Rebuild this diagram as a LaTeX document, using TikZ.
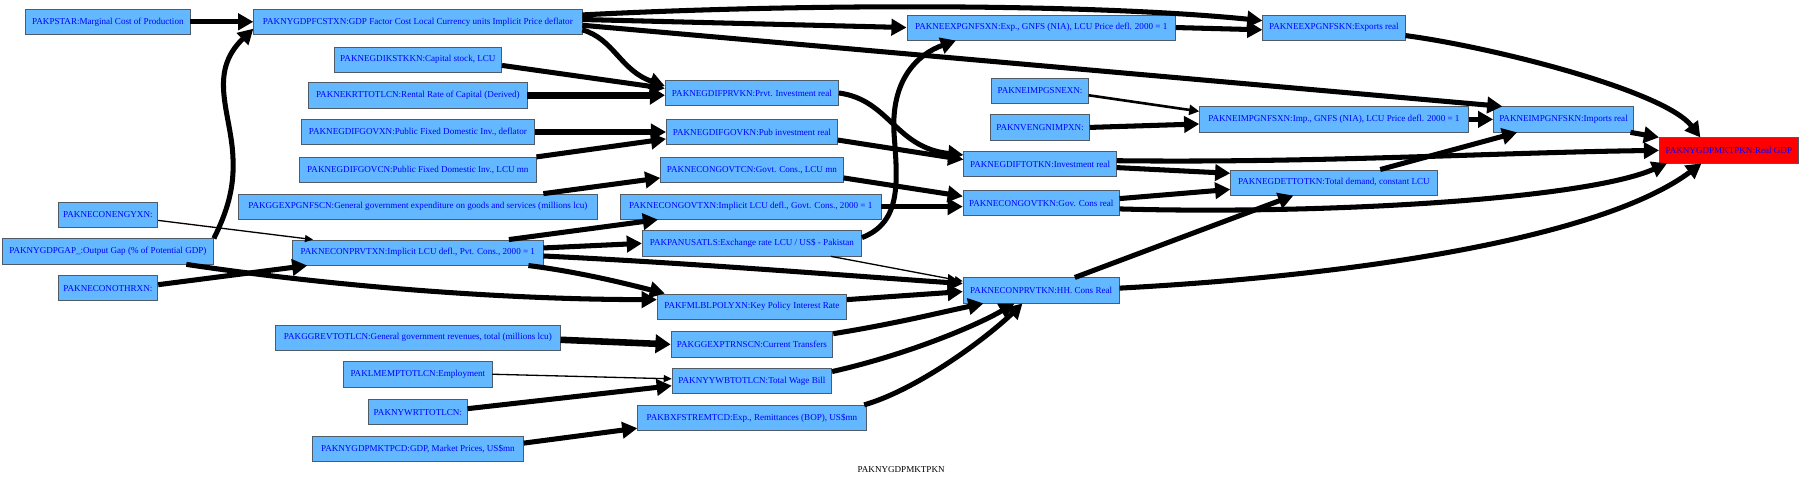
\documentclass[tikz,border=0pt]{standalone}
\usepackage{fontspec}
\setmainfont{Liberation Serif}
\usepackage{tikz}
\usetikzlibrary{arrows.meta, calc}
\definecolor{varfill}{HTML}{63B8FF}
\definecolor{varline}{HTML}{4F5B66}
\definecolor{gdpfill}{HTML}{FF0000}
\tikzset{
  var/.style={draw=varline, line width=0.7pt, fill=varfill, text=blue,
    font=\fontsize{9}{10}\selectfont, minimum height=0.88cm,
    inner xsep=0.5pt, inner ysep=0pt},
  flow/.style={line width=5pt, -{Triangle[length=15pt,width=16pt]}},
  heavyflow/.style={line width=6.5pt, -{Triangle[length=15pt,width=18pt]}},
  midflow/.style={line width=2.6pt, -{Triangle[length=10pt,width=10pt]}},
  thinflow/.style={line width=1.3pt, -{Triangle[length=8pt,width=7pt]}},
}
\begin{document}
\begin{tikzpicture}[x=0.04cm, y=0.04cm]
\useasboundingbox (0,0) rectangle (1568,419);
% Variable boxes: name/x/y/width/label
\foreach \nm/\x/\y/\w/\lbl in {
    pstar/94/400/143/{PAKPSTAR:Marginal Cost of Production},
    fcstxn/364/400/286/{PAKNYGDPFCSTXN:GDP Factor Cost Local Currency units Implicit Price deflator},
    expxn/907/395/234/{PAKNEEXPGNFSXN:Exp., GNFS (NIA), LCU Price defl. 2000 = 1},
    expkn/1162/395/124/{PAKNEEXPGNFSKN:Exports real},
    kstkkn/364/367/146/{PAKNEGDIKSTKKN:Capital stock, LCU},
    krtt/364/336/190/{PAKNEKRTTOTLCN:Rental Rate of Capital (Derived)},
    prvkn/655/338/151/{PAKNEGDIFPRVKN:Prvt. Investment real},
    impsnexn/906/340/84/{PAKNEIMPGSNEXN:},
    nveng/906/308/86/{PAKNVENGNIMPXN:},
    impxn/1162/315/234/{PAKNEIMPGNFSXN:Imp., GNFS (NIA), LCU Price defl. 2000 = 1},
    impkn/1362/315/122/{PAKNEIMPGNFSKN:Imports real},
    govxn/364/304/203/{PAKNEGDIFGOVXN:Public Fixed Domestic Inv., deflator},
    govkn/655/304/149/{PAKNEGDIFGOVKN:Pub investment real},
    totkn/906/276/133/{PAKNEGDIFTOTKN:Investment real},
    govcn/364/271/206/{PAKNEGDIFGOVCN:Public Fixed Domestic Inv., LCU mn},
    congovtcn/655/271/159/{PAKNECONGOVTCN:Govt. Cons., LCU mn},
    gdettot/1162/260/180/{PAKNEGDETTOTKN:Total demand, constant LCU},
    congovtkn/907/242/136/{PAKNECONGOVTKN:Gov. Cons real},
    ggexpgnfs/364/239/312/{PAKGGEXPGNFSCN:General government expenditure on goods and services (millions lcu)},
    congovtxn/654/239/227/{PAKNECONGOVTXN:Implicit LCU defl., Govt. Cons., 2000 = 1},
    conengy/94/232/87/{PAKNECONENGYXN:},
    gap/94/200/184/{PAKNYGDPGAP\_:Output Gap (\% of Potential GDP)},
    conprvtxn/364/199/218/{PAKNECONPRVTXN:Implicit LCU defl., Pvt. Cons., 2000 = 1},
    panusatls/655/207/191/{PAKPANUSATLS:Exchange rate LCU / US\$ - Pakistan},
    conothr/94/168/87/{PAKNECONOTHRXN:},
    fmlbl/655/152/165/{PAKFMLBLPOLYXN:Key Policy Interest Rate},
    conprvtkn/907/166/136/{PAKNECONPRVTKN:HH. Cons Real},
    ggrevtot/364/125/248/{PAKGGREVTOTLCN:General government revenues, total (millions lcu)},
    trnscn/655/119/141/{PAKGGEXPTRNSCN:Current Transfers},
    lmemp/364/93/129/{PAKLMEMPTOTLCN:Employment},
    ywbtot/655/87/139/{PAKNYYWBTOTLCN:Total Wage Bill},
    nywrt/364/60/86/{PAKNYWRTTOTLCN:},
    mktpcd/364/28/184/{PAKNYGDPMKTPCD:GDP, Market Prices, US\$mn},
    bxfs/655/55/199/{PAKBXFSTREMTCD:Exp., Remittances (BOP), US\$mn}}{
    \node[var, minimum width=\w*0.04cm] (\nm) at (\x,\y) {\lbl};
}
\node[var, fill=gdpfill, minimum width=121*0.04cm] (gdp) at (1506,288) {PAKNYGDPMKTPKN:Real GDP};
\node[font=\fontsize{9}{10}\selectfont] (caption) at (785,10) {PAKNYGDPMKTPKN};
% Links into the GDP deflator and prices
\draw[flow] (pstar.east) -- (fcstxn.west);
\draw[flow] (gap.north east) .. controls (198,235) and (204,255) .. (203,280)
  .. controls (202,320) and (180,355) .. ($(fcstxn.west)+(0,-6)$);
\draw[flow] ($(fcstxn.east)+(0,6)$) .. controls (700,416) and (950,416) .. ($(expkn.west)+(0,6)$);
\draw[flow] ($(fcstxn.east)+(0,2)$) -- (expxn.west);
\draw[flow] ($(fcstxn.east)+(0,-3)$) -- ($(impkn.north west)+(8,0)$);
\draw[flow] ($(fcstxn.east)+(0,-7)$) .. controls (535,385) and (540,358) .. ($(prvkn.west)+(0,6)$);
% Investment
\draw[flow] ($(kstkkn.east)+(0,-5)$) -- ($(prvkn.west)+(0,4)$);
\draw[heavyflow] (krtt.east) -- (krtt.east -| prvkn.west);
\draw[flow] (govxn.east) -- (govxn.east -| govkn.west);
\draw[flow] (govcn.north east) -- ($(govkn.west)+(0,-6)$);
\draw[flow] (prvkn.east) .. controls (775,332) and (780,290) .. ($(totkn.west)+(0,8)$);
\draw[flow] ($(govkn.east)+(0,-7)$) -- ($(totkn.west)+(0,4)$);
% Trade
\draw[flow] (expxn.east) -- ($(expkn.west)+(0,-2)$);
\draw[flow] ($(expkn.east)+(0,-7)$) .. controls (1300,378) and (1450,340) .. ($(gdp.north west)+(36,0)$);
\draw[midflow] ($(impsnexn.east)+(0,-4)$) -- ($(impxn.west)+(0,7)$);
\draw[flow] (nveng.east) -- ($(impxn.west)+(0,-4)$);
\draw[flow] (impxn.east) -- (impkn.west);
\draw[flow] ($(impkn.south east)+(-3,0)$) -- (gdp.north west);
% Demand aggregates
\draw[flow] ($(totkn.east)+(0,3)$) .. controls (1150,277) and (1300,286) .. (gdp.west);
\draw[flow] ($(totkn.east)+(0,-3)$) -- ($(gdettot.west)+(0,8)$);
\draw[flow] ($(congovtkn.east)+(0,4)$) -- ($(gdettot.west)+(0,-6)$);
\draw[flow] ($(congovtkn.east)+(0,-5)$) .. controls (1150,232) and (1380,245) .. ($(gdp.south west)+(7,0)$);
\draw[flow] ($(conprvtkn.east)+(0,2)$) .. controls (1200,180) and (1400,215) .. ($(gdp.south west)+(37,0)$);
\draw[flow] ($(conprvtkn.north east)+(-39,0)$) -- ($(gdettot.south west)+(55,0)$);
\draw[flow] ($(gdettot.north east)+(-50,0)$) -- ($(impkn.south west)+(21,0)$);
% Government consumption
\draw[flow] ($(ggexpgnfs.north east)+(-47,0)$) -- ($(congovtcn.west)+(0,-7)$);
\draw[flow] ($(congovtcn.east)+(0,-7)$) -- ($(congovtkn.west)+(0,6)$);
\draw[flow] (congovtxn.east) -- (congovtxn.east -| congovtkn.west);
\draw[flow] ($(conprvtxn.north east)+(-30,0)$) -- ($(congovtxn.south west)+(33,0)$);
% Private consumption
\draw[thinflow] ($(conengy.east)+(0,-5)$) -- ($(conprvtxn.north west)+(18,0)$);
\draw[flow] ($(conothr.east)+(0,3)$) -- ($(conprvtxn.south west)+(13,0)$);
\draw[flow] ($(gap.south east)+(-24,0)$) .. controls (300,168) and (450,158) .. ($(fmlbl.west)+(0,6)$);
\draw[flow] ($(conprvtxn.east)+(0,4)$) -- (panusatls.west);
\draw[flow] ($(conprvtxn.east)+(0,-3)$) .. controls (600,190) and (750,178) .. ($(conprvtkn.west)+(0,6)$);
\draw[flow] ($(conprvtxn.south east)+(-13,0)$) .. controls (505,182) and (545,172) .. ($(fmlbl.north west)+(7,0)$);
\draw[flow] ($(panusatls.east)+(0,5)$) .. controls (785,225) and (782,260) .. (779,300)
  .. controls (775,350) and (800,372) .. ($(expxn.south west)+(43,0)$);
\draw[thinflow] ($(panusatls.south east)+(-27,0)$) -- ($(conprvtkn.west)+(0,8)$);
\draw[flow] ($(fmlbl.east)+(0,6)$) -- ($(conprvtkn.west)+(0,-1)$);
% Income side
\draw[heavyflow] ($(ggrevtot.east)+(0,-2)$) -- (trnscn.west);
\draw[flow] ($(trnscn.north east)+(0,-2)$) .. controls (780,137) and (820,147) .. ($(conprvtkn.south west)+(18,0)$);
\draw[thinflow] (lmemp.east) -- ($(ywbtot.west)+(0,2)$);
\draw[flow] ($(nywrt.east)+(0,3)$) -- ($(ywbtot.west)+(0,-4)$);
\draw[flow] ($(ywbtot.north east)+(0,-3)$) .. controls (790,110) and (850,135) .. ($(conprvtkn.south west)+(45,0)$);
\draw[flow] ($(mktpcd.east)+(0,5)$) -- ($(bxfs.west)+(0,-9)$);
\draw[flow] ($(bxfs.north east)+(-2,0)$) .. controls (800,80) and (860,125) .. ($(conprvtkn.south west)+(52,0)$);
\end{tikzpicture}
\end{document}
